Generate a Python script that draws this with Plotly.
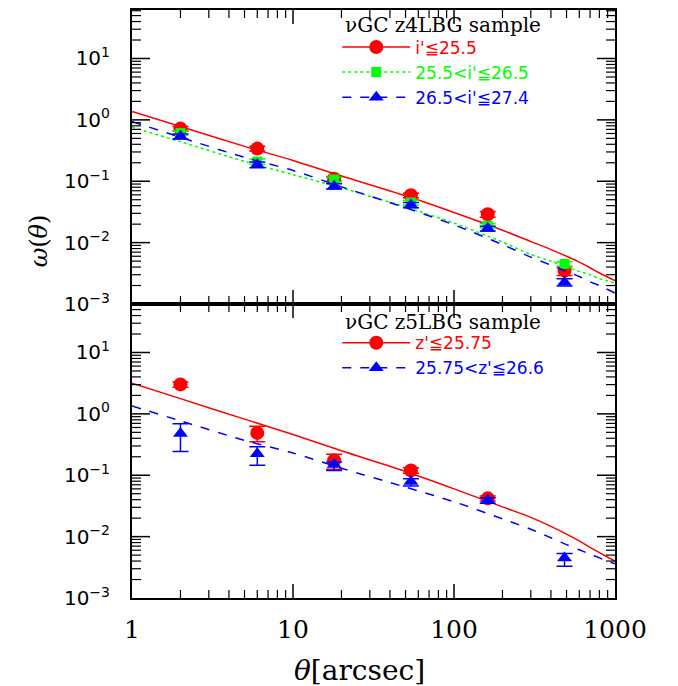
import math
import plotly.graph_objects as go

# ---------------- data ----------------
theta = [2, 6, 18, 54, 162, 486]

# z4LBG sample (top panel)
w_i1 = [0.72, 0.34, 0.11, 0.059, 0.029, 0.0035]
e_i1 = [0.06, 0.03, 0.01, 0.005, 0.003, 0.0006]
w_i2 = [0.61, 0.21, 0.107, 0.045, 0.0188, 0.0045]
e_i2 = [0.05, 0.02, 0.009, 0.004, 0.0015, 0.0004]
w_i3 = [0.54, 0.186, 0.083, 0.041, 0.017, 0.00227]
e_i3 = [0.05, 0.02, 0.008, 0.004, 0.0015, 0.0003]

# z5LBG sample (bottom panel)
theta_z1 = [2, 6, 18, 54, 162]
w_z1 = [3.02, 0.49, 0.175, 0.12, 0.042]
ep_z1 = [0.3, 0.14, 0.044, 0.012, 0.004]
em_z1 = [0.3, 0.14, 0.05, 0.012, 0.004]
w_z2 = [0.48, 0.225, 0.149, 0.079, 0.039, 0.0045]
ep_z2 = [0.21, 0.065, 0.016, 0.009, 0.004, 0.0008]
em_z2 = [0.237, 0.079, 0.029, 0.012, 0.004, 0.0012]

# model curves
theta_model = [1, 2, 5, 10, 20, 50, 100, 200, 300, 400, 500, 600, 700, 800, 1000]
m_i1 = [1.37, 0.78, 0.37, 0.218, 0.122, 0.058, 0.031, 0.0159, 0.0104, 0.0077, 0.0060, 0.0048, 0.0039, 0.0032, 0.0024]
m_i2 = [0.76, 0.44, 0.21, 0.128, 0.078, 0.038, 0.0208, 0.0102, 0.0064, 0.0050, 0.0040, 0.0034, 0.0030, 0.0026, 0.0022]
m_i3 = [0.94, 0.52, 0.245, 0.15, 0.081, 0.037, 0.0195, 0.0093, 0.0058, 0.0043, 0.0034, 0.0028, 0.0023, 0.0020, 0.0015]
m_z1 = [3.17, 1.77, 0.82, 0.46, 0.25, 0.115, 0.060, 0.0305, 0.0206, 0.0147, 0.0110, 0.0085, 0.0067, 0.0055, 0.0040]
m_z2 = [1.34, 0.77, 0.37, 0.23, 0.13, 0.064, 0.037, 0.0195, 0.0132, 0.0096, 0.0074, 0.0061, 0.0052, 0.0045, 0.0036]

labels_top = ["i'≦25.5", "25.5<i'≦26.5", "26.5<i'≦27.4"]
labels_bot = ["z'≦25.75", "25.75<z'≦26.6"]
title_top = "νGC z4LBG sample"
title_bot = "νGC z5LBG sample"

xtick_vals = [1, 10, 100, 1000]
xtick_text = ["1", "10", "100", "1000"]
ytick_vals = [0.001, 0.01, 0.1, 1, 10]
ytick_text = ["10<sup>−3</sup>", "10<sup>−2</sup>", "10<sup>−1</sup>", "10<sup>0</sup>", "10<sup>1</sup>"]

XR = [0, 3]
YR = [-3, 1.79]

# minor tick positions (2..9 within each decade)
x_minor = [m * 10 ** k for k in range(0, 3) for m in range(2, 10)]
y_minor = [m * 10 ** k for k in range(-3, 2) for m in range(2, 10) if math.log10(m * 10 ** k) < YR[1]]

RED, GREEN, BLUE = "#ff0000", "#00ff00", "#0000ff"

fig = go.Figure()


def add_series(xa, ya, x, y, eplus, eminus, xm, ym, color, symbol, msize, dash, name, legend):
    fig.add_trace(go.Scatter(x=xm, y=ym, mode="lines", xaxis=xa, yaxis=ya,
                             line=dict(color=color, width=1.5, dash=dash, shape="spline", smoothing=0.8),
                             showlegend=False, hoverinfo="skip"))
    fig.add_trace(go.Scatter(x=x, y=y, mode="markers", xaxis=xa, yaxis=ya,
                             marker=dict(color=color, symbol=symbol, size=msize),
                             error_y=dict(type="data", array=eplus, arrayminus=eminus, color=color,
                                          thickness=1.5, width=8),
                             showlegend=False))
    fig.add_trace(go.Scatter(x=[None], y=[None], mode="lines+markers", xaxis=xa, yaxis=ya,
                             line=dict(color=color, width=1.5, dash=dash),
                             marker=dict(color=color, symbol=symbol, size=msize),
                             name=f"<span style='color:{color}'>{name}</span>",
                             legend=legend, showlegend=True))


add_series("x", "y", theta, w_i1, e_i1, e_i1, theta_model, m_i1, RED, "circle", 14, "solid", labels_top[0], "legend")
add_series("x", "y", theta, w_i2, e_i2, e_i2, theta_model, m_i2, GREEN, "square", 10, "dot", labels_top[1], "legend")
add_series("x", "y", theta, w_i3, e_i3, e_i3, theta_model, m_i3, BLUE, "triangle-up", 13, "dash", labels_top[2], "legend")
add_series("x2", "y2", theta_z1, w_z1, ep_z1, em_z1, theta_model, m_z1, RED, "circle", 14, "solid", labels_bot[0], "legend2")
add_series("x2", "y2", theta, w_z2, ep_z2, em_z2, theta_model, m_z2, BLUE, "triangle-up", 13, "dash", labels_bot[1], "legend2")

base = dict(type="log", showgrid=False, zeroline=False, ticks="", tickmode="array", mirror=True,
            showline=True, linecolor="black", linewidth=2)
xmaj = dict(base, range=XR, tickvals=xtick_vals, ticktext=xtick_text,
            tickfont=dict(family="DejaVu Serif", size=25, color="black"))
ymaj = dict(base, range=YR, tickvals=ytick_vals, ticktext=ytick_text,
            tickfont=dict(family="DejaVu Sans", size=20, color="black"), ticklabelstandoff=16)

fig.update_layout(
    xaxis=dict(xmaj, domain=[0, 1], anchor="y", showticklabels=False),
    yaxis=dict(ymaj, domain=[0.5, 1.0], anchor="x"),
    xaxis2=dict(xmaj, domain=[0, 1], anchor="y2", ticklabelstandoff=8),
    yaxis2=dict(ymaj, domain=[0.0, 0.5], anchor="x2"),
)

# ---- tick marks (inside, on all four sides of each panel); shapes take data values on log axes ----
W_PX, H_PX = 483, 295
XMAJ_LEN, XMIN_LEN, YMAJ_LEN, YMIN_LEN = 14, 8, 18, 9
shapes = []
for xa, ya in (("x", "y"), ("x2", "y2")):
    for vals, ln, lw in ((xtick_vals, XMAJ_LEN, 1.5), (x_minor, XMIN_LEN, 1.2)):
        for v in vals:
            if not (XR[0] < math.log10(v) < XR[1]):
                continue
            f = ln / H_PX
            for y0, y1 in ((0, f), (1 - f, 1)):
                shapes.append(dict(type="line", xref=xa, yref=ya + " domain", x0=v, x1=v, y0=y0, y1=y1,
                                   line=dict(color="black", width=lw)))
    for vals, ln, lw in ((ytick_vals, YMAJ_LEN, 1.5), (y_minor, YMIN_LEN, 1.2)):
        for v in vals:
            if not (YR[0] < math.log10(v) < YR[1]):
                continue
            f = ln / W_PX
            for x0, x1 in ((0, f), (1 - f, 1)):
                shapes.append(dict(type="line", xref=xa + " domain", yref=ya, x0=x0, x1=x1, y0=v, y1=v,
                                   line=dict(color="black", width=lw)))
fig.update_layout(shapes=shapes)

leg_common = dict(xanchor="left", yanchor="top", bgcolor="rgba(0,0,0,0)", borderwidth=0,
                  font=dict(family="DejaVu Sans", size=17), itemwidth=68, tracegroupgap=0)
fig.update_layout(
    legend=dict(**leg_common, x=0.425, y=0.967),
    legend2=dict(**leg_common, x=0.425, y=0.464),
)

fig.add_annotation(text=title_top, xref="paper", yref="paper", x=0.437, y=0.974,
                   xanchor="left", yanchor="middle", showarrow=False,
                   font=dict(family="DejaVu Serif", size=20, color="black"))
fig.add_annotation(text=title_bot, xref="paper", yref="paper", x=0.437, y=0.470,
                   xanchor="left", yanchor="middle", showarrow=False,
                   font=dict(family="DejaVu Serif", size=20, color="black"))
fig.add_annotation(text="<i>ω</i>(<i>θ</i>)", xref="paper", yref="paper", x=-0.192, y=0.607,
                   xanchor="center", yanchor="middle",
                   textangle=-90, showarrow=False, font=dict(family="DejaVu Serif", size=24, color="black"))
fig.add_annotation(text="<i>θ</i>[arcsec]", xref="paper", yref="paper", x=0.47, y=-0.123,
                   xanchor="center", yanchor="middle",
                   showarrow=False, font=dict(family="DejaVu Serif", size=28, color="black"))

# the page adds an 8 px body margin, so the figure is sized to fit the 678x686 window
fig.update_layout(width=670, height=678, margin=dict(l=124, r=63, t=0, b=88),
                  paper_bgcolor="white", plot_bgcolor="white")

fig.write_html("out.html")
